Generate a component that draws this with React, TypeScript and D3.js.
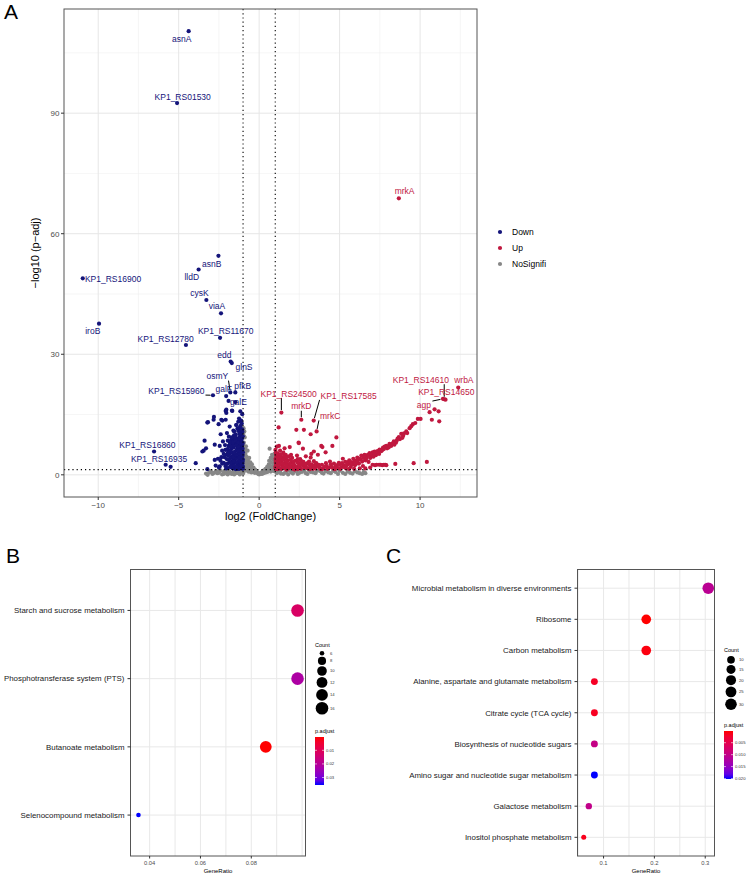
import React from 'react';
import * as d3 from 'd3';

const FONT = '"Liberation Sans", Arial, Helvetica, sans-serif';

// ---- Panel A: volcano, [log2FC, -log10 padj] ----
const nsPoints: [number, number][] = [
  [-3.3, 0.3], [-3.2, 0.0], [-3.1, 0.6], [-2.9, 0.2], [-2.7, 0.9], [-2.6, 0.4], [-2.4, 1.1], [-2.3, 0.1],
  [-2.2, 0.7], [-2.0, 0.3], [-1.9, 1.0], [-1.8, 0.5], [-1.7, 0.2], [-1.6, 0.8], [-1.5, 1.2], [-1.4, 0.4],
  [-1.3, 0.9], [-1.2, 0.1], [-1.1, 0.6], [-1.05, 1.1], [-0.98, 2.5], [-0.95, 4.0], [-0.93, 6.0], [-0.95, 8.0],
  [-0.92, 10.8], [-0.9, 9.3], [-0.97, 11.6], [-0.88, 3.2], [-0.85, 5.2], [-0.82, 7.1], [-0.8, 1.8], [-0.78, 4.5],
  [-0.75, 2.8], [-0.72, 6.0], [-0.7, 3.6], [-0.68, 0.8], [-0.65, 1.5], [-0.62, 4.2], [-0.6, 2.3], [-0.55, 3.1],
  [-0.5, 1.9], [-0.48, 0.6], [-0.45, 2.6], [-0.4, 1.2], [-0.35, 1.8], [-0.3, 0.9], [-0.25, 1.3], [-0.2, 0.6],
  [-0.15, 0.9], [-0.1, 0.4], [-0.05, 0.2], [0.0, 0.1], [0.05, 0.3], [0.1, 0.5], [0.15, 0.2], [0.2, 0.8],
  [0.25, 0.4], [0.3, 1.1], [0.35, 0.7], [0.4, 1.5], [0.45, 1.0], [0.5, 2.0], [0.55, 1.4], [0.6, 2.6],
  [0.62, 3.5], [0.65, 6.5], [0.7, 2.2], [0.72, 4.2], [0.75, 3.0], [0.8, 5.0], [0.82, 1.6], [0.85, 3.8],
  [0.88, 4.6], [0.9, 2.4], [0.95, 5.2], [0.97, 3.3], [0.93, 0.9], [1.1, 0.4], [1.3, 0.9], [1.5, 0.2],
  [1.7, 0.7], [1.9, 1.1], [2.1, 0.3], [2.3, 0.8], [2.5, 0.5], [2.8, 1.0], [3.0, 0.2], [3.2, 0.7],
  [3.5, 0.4], [3.8, 0.9], [4.0, 0.3], [4.3, 0.6], [4.6, 1.0], [4.9, 0.2], [5.2, 0.5], [5.5, 0.8],
  [5.8, 0.3], [6.1, 0.6], [6.4, 0.2], [6.6, 0.4], [-2.5, 0.5], [-1.95, 0.1], [1.2, 1.2], [2.0, 0.9],
  [-3.0, 0.9], [-2.8, 0.5], [-2.5, 0.9], [-2.2, 0.2], [-2.1, 1.0], [-1.85, 0.8], [-1.75, 0.4], [-1.55, 0.1],
  [-1.45, 0.7], [-1.35, 1.1], [-1.25, 0.4], [-1.15, 1.0], [-1.0, 0.3], [-0.95, 0.8], [-0.9, 1.5], [-0.92, 2.0],
  [-0.96, 3.0], [-0.9, 5.0], [-0.87, 6.6], [-0.97, 7.2], [-0.94, 9.6], [-0.99, 10.2], [-0.85, 4.0], [-0.8, 2.5],
  [-0.76, 3.4], [-0.7, 1.1], [-0.67, 2.0], [-0.6, 0.8], [-0.58, 1.3], [-0.52, 2.5], [-0.42, 0.8], [-0.38, 1.5],
  [-0.28, 0.5], [-0.22, 1.0], [0.22, 0.3], [0.32, 0.5], [0.42, 0.6], [0.48, 1.2], [0.52, 0.7], [0.58, 1.8],
  [0.67, 1.3], [0.72, 0.8], [0.78, 1.9], [0.85, 1.1], [0.92, 1.8], [0.98, 2.8], [0.96, 4.0], [0.99, 1.3],
  [1.15, 0.7], [1.35, 0.3], [1.6, 0.5], [1.8, 0.1], [2.0, 0.6], [2.2, 1.0], [2.4, 0.2], [2.65, 0.7],
  [2.9, 0.4], [3.1, 1.1], [3.35, 0.6], [3.6, 1.0], [3.9, 0.5], [4.15, 0.9], [4.45, 0.4], [4.75, 0.7],
  [5.0, 1.0], [5.35, 0.2], [5.65, 0.5], [5.95, 0.9], [6.25, 0.4], [6.5, 0.7]
];

const downPoints: [number, number][] = [
  [-1.02, 1.5], [-1.05, 2.4], [-1.03, 3.3], [-1.08, 4.2], [-1.04, 5.1], [-1.06, 6.0], [-1.1, 7.0], [-1.02, 7.9],
  [-1.07, 9.0], [-1.12, 10.2], [-1.05, 11.3], [-1.15, 12.2], [-1.15, 1.8], [-1.2, 2.9], [-1.18, 3.8], [-1.22, 4.7],
  [-1.16, 5.6], [-1.25, 6.5], [-1.2, 7.5], [-1.28, 8.4], [-1.19, 9.6], [-1.3, 10.9], [-1.32, 1.5], [-1.35, 2.5],
  [-1.3, 3.4], [-1.38, 4.3], [-1.33, 5.2], [-1.4, 6.2], [-1.36, 7.1], [-1.42, 8.0], [-1.38, 9.1], [-1.45, 10.0],
  [-1.42, 12.4], [-1.5, 1.9], [-1.52, 3.0], [-1.48, 3.9], [-1.55, 4.8], [-1.5, 5.8], [-1.58, 6.8], [-1.53, 7.8],
  [-1.6, 8.9], [-1.56, 9.8], [-1.65, 1.6], [-1.68, 2.6], [-1.63, 3.5], [-1.7, 4.5], [-1.66, 5.4], [-1.72, 6.4],
  [-1.69, 7.4], [-1.75, 8.6], [-1.83, 12.0], [-1.8, 2.1], [-1.84, 3.2], [-1.79, 4.1], [-1.86, 5.1], [-1.82, 6.1],
  [-1.9, 7.2], [-1.88, 9.5], [-1.95, 1.7], [-1.98, 2.8], [-2.0, 3.9], [-2.03, 5.0], [-1.97, 6.4], [-2.0, 10.4],
  [-2.1, 2.2], [-2.15, 4.4], [-2.2, 3.0], [-2.25, 8.3], [-2.35, 4.4], [-2.39, 10.1], [-2.45, 7.2], [-2.45, 2.1],
  [-2.52, 12.6], [-2.56, 4.0], [-2.76, 3.7], [-2.76, 7.5], [-2.83, 13.7], [-2.81, 14.4], [-3.18, 13.1], [-3.22, 13.0],
  [-3.3, 6.6], [-3.39, 8.5], [-3.45, 6.0], [-3.53, 5.8], [-3.94, 2.9], [-3.22, 1.4], [-2.29, 13.5], [-2.35, 13.7],
  [-2.08, 13.7], [-2.04, 16.2], [-2.04, 15.4], [-1.69, 16.0], [-1.67, 15.9], [-2.08, 15.9], [-1.17, 15.8], [-1.05, 15.1],
  [-1.48, 18.1], [-1.42, 12.4], [-1.6, 11.0], [-1.3, 13.2], [-1.25, 14.0], [-1.12, 13.5], [-1.1, 8.4], [-1.25, 2.0],
  [-1.45, 1.4], [-1.75, 1.9], [-2.5, 1.8], [-2.7, 2.3], [-5.5, 2.0],
  [-1.01, 2.0], [-1.04, 2.9], [-1.01, 3.8], [-1.03, 4.7], [-1.01, 5.6], [-1.03, 6.5], [-1.05, 7.4], [-1.02, 9.6],
  [-1.04, 10.7], [-1.09, 1.9], [-1.11, 3.0], [-1.09, 4.0], [-1.12, 5.0], [-1.1, 6.0], [-1.14, 7.8], [-1.12, 9.2],
  [-1.16, 11.0], [-1.24, 1.5], [-1.27, 3.4], [-1.25, 4.3], [-1.28, 5.3], [-1.26, 6.0], [-1.3, 7.0], [-1.33, 8.0],
  [-1.24, 9.0], [-1.22, 10.2], [-1.4, 2.0], [-1.42, 3.0], [-1.45, 5.0], [-1.44, 7.4], [-1.47, 8.6], [-1.5, 9.4],
  [-1.35, 11.5], [-1.58, 2.4], [-1.6, 3.4], [-1.62, 4.4], [-1.6, 5.5], [-1.64, 7.2], [-1.66, 8.0], [-1.7, 9.3],
  [-1.74, 2.3], [-1.76, 3.0], [-1.77, 5.7], [-1.78, 7.0], [-1.82, 8.0], [-1.9, 3.8], [-1.92, 4.8], [-1.93, 5.6],
  [-1.95, 8.5], [-2.05, 2.6], [-2.1, 6.2], [-2.12, 7.4], [-2.2, 5.2], [-2.3, 6.0], [-2.3, 2.8], [-2.4, 3.5],
  [-2.05, 1.6], [-1.55, 10.8], [-1.2, 11.8], [-1.08, 12.8]
];

const upPoints: [number, number][] = [
  [1.02, 1.5], [1.05, 2.5], [1.03, 3.5], [1.08, 4.5], [1.04, 5.5], [1.1, 7.0], [1.2, 1.8], [1.22, 2.9],
  [1.18, 3.9], [1.25, 4.8], [1.3, 6.0], [1.4, 1.5], [1.42, 2.4], [1.38, 3.4], [1.45, 4.3], [1.5, 5.5],
  [1.6, 1.9], [1.62, 3.0], [1.58, 4.0], [1.65, 5.0], [1.58, 6.6], [1.8, 1.6], [1.82, 2.6], [1.78, 3.6],
  [1.85, 4.6], [1.9, 6.9], [2.0, 2.0], [2.02, 3.1], [2.05, 4.2], [2.1, 1.5], [2.2, 2.4], [2.25, 3.5],
  [2.3, 1.7], [2.35, 4.8], [2.45, 2.9], [2.5, 2.0], [2.55, 3.9], [2.6, 1.5], [2.7, 2.4], [2.75, 3.2],
  [2.8, 1.8], [2.72, 6.5], [2.45, 8.0], [2.9, 2.2], [3.0, 2.9], [3.05, 1.6], [3.15, 2.4], [3.2, 10.1],
  [3.3, 1.9], [3.4, 3.4], [3.5, 1.6], [3.65, 5.0], [3.6, 2.2], [3.75, 1.8], [3.93, 6.9], [3.9, 2.5],
  [4.0, 1.6], [4.13, 5.6], [4.2, 2.2], [4.35, 1.8], [4.45, 2.6], [4.55, 7.2], [4.6, 1.6], [4.75, 2.1],
  [4.8, 9.3], [4.9, 1.7], [5.0, 2.6], [5.1, 1.9], [5.25, 2.3], [5.35, 3.2], [5.4, 1.6], [5.55, 2.7],
  [5.6, 3.6], [5.7, 2.0], [5.8, 3.0], [5.85, 4.0], [5.95, 2.4], [6.0, 3.5], [6.1, 4.3], [6.2, 2.8],
  [6.3, 3.9], [6.35, 4.8], [6.45, 2.2], [6.55, 5.0], [6.6, 3.6], [6.7, 4.5], [6.86, 5.4], [6.8, 3.2],
  [6.95, 4.8], [7.05, 5.6], [7.05, 2.5], [7.17, 5.8], [7.25, 4.9], [7.3, 2.5], [7.4, 5.5], [7.48, 6.3],
  [7.55, 2.5], [7.6, 5.9], [7.7, 6.8], [7.8, 7.0], [7.84, 2.5], [7.9, 2.4], [7.95, 6.6], [8.1, 7.7],
  [8.2, 7.2], [8.37, 8.3], [8.46, 2.7], [8.5, 8.0], [8.68, 9.4], [8.75, 8.9], [8.83, 10.2], [8.95, 9.7],
  [9.14, 10.8], [9.35, 11.6], [9.55, 12.6], [9.6, 2.9], [9.86, 13.9], [10.03, 13.9], [10.42, 3.2], [10.59, 15.6],
  [10.9, 16.3], [11.15, 15.8], [10.73, 13.7], [11.19, 13.3], [1.21, 11.8], [2.31, 11.2], [2.78, 11.2], [1.23, 7.2],
  [3.24, 5.2], [3.4, 5.8], [3.86, 7.2], [2.47, 7.9], [3.2, 4.3], [2.9, 4.6], [1.7, 1.3], [2.4, 1.4], [3.9, 1.4],
  [4.4, 3.3], [5.2, 4.0], [5.9, 1.5], [6.25, 1.6],
  [1.01, 2.0], [1.03, 3.0], [1.02, 4.0], [1.05, 5.0], [1.01, 6.2], [1.12, 1.4], [1.1, 2.2], [1.14, 3.2],
  [1.12, 4.1], [1.15, 5.3], [1.28, 1.6], [1.3, 2.5], [1.32, 3.6], [1.3, 4.4], [1.35, 5.1], [1.48, 1.9],
  [1.5, 2.8], [1.52, 3.8], [1.55, 4.7], [1.68, 1.4], [1.7, 2.3], [1.72, 3.3], [1.7, 4.4], [1.9, 1.9],
  [1.92, 2.8], [1.95, 3.7], [1.98, 5.0], [2.12, 2.6], [2.15, 3.3], [2.18, 1.9], [2.38, 2.0], [2.4, 3.0],
  [2.4, 3.9], [2.6, 2.6], [2.62, 3.4], [2.85, 2.7], [2.95, 1.7], [3.1, 3.3], [3.25, 2.6], [3.35, 1.5],
  [3.45, 2.4], [3.55, 2.9], [3.7, 2.5], [3.8, 1.5], [4.05, 2.0], [4.15, 2.9], [4.25, 1.5], [4.5, 2.0],
  [4.65, 2.8], [4.85, 2.4], [4.95, 3.0], [5.05, 1.5], [5.15, 2.9], [5.3, 1.9], [5.45, 2.4], [5.5, 3.1],
  [5.65, 3.3], [5.75, 2.6], [5.9, 3.3], [6.05, 2.8], [6.15, 3.6], [6.25, 4.0], [6.4, 3.3], [6.5, 4.2],
  [6.65, 4.0], [6.75, 5.0], [6.9, 4.2], [7.0, 5.1], [7.1, 4.5], [7.2, 5.2], [7.35, 5.9], [7.45, 5.2],
  [7.65, 6.2], [7.75, 6.4], [7.9, 7.2], [8.0, 7.0], [8.05, 6.8], [8.3, 7.8], [8.4, 7.5], [8.55, 8.5],
  [8.6, 9.0], [8.9, 9.2], [9.0, 10.3], [9.2, 10.4], [9.45, 12.1], [9.7, 12.9], [6.6, 1.6], [6.9, 1.8],
  [7.2, 2.4], [7.45, 2.5], [7.65, 2.4], [7.75, 2.5], [5.6, 1.5], [4.7, 1.4], [3.15, 1.4], [2.2, 1.3]
];

// labelled genes: name, group, x, y, label x, label y, draw segment
const geneLabels: [string, string, number, number, number, number, boolean][] = [
  ['asnA', 'Down', -4.38, 110.4, -4.81, 108.4, false],
  ['KP1_RS01530', 'Down', -5.1, 92.5, -4.75, 94.1, false],
  ['asnB', 'Down', -2.53, 54.5, -2.95, 52.5, false],
  ['lldD', 'Down', -3.76, 51.1, -4.19, 49.1, false],
  ['KP1_RS16900', 'Down', -10.96, 48.9, -9.08, 48.8, false],
  ['cysK', 'Down', -3.28, 43.5, -3.71, 45.3, false],
  ['viaA', 'Down', -2.37, 40.2, -2.62, 41.9, false],
  ['iroB', 'Down', -9.95, 37.6, -10.34, 35.8, false],
  ['KP1_RS11670', 'Down', -2.43, 34.1, -2.08, 35.8, false],
  ['KP1_RS12780', 'Down', -4.55, 32.3, -5.81, 33.9, false],
  ['edd', 'Down', -1.77, 28.2, -2.16, 29.9, false],
  ['glnS', 'Down', -1.7, 27.8, -0.94, 26.9, false],
  ['osmY', 'Down', -1.79, 20.5, -2.6, 24.5, true],
  ['pfkB', 'Down', -1.48, 20.5, -1.02, 22.2, false],
  ['galF', 'Down', -2.05, 19.6, -2.2, 21.4, false],
  ['galE', 'Down', -1.9, 18.4, -1.29, 18.2, false],
  ['KP1_RS15960', 'Down', -2.87, 19.8, -5.14, 20.9, true],
  ['KP1_RS16860', 'Down', -6.53, 5.8, -6.94, 7.5, false],
  ['KP1_RS16935', 'Down', -5.81, 2.5, -6.22, 4.0, false],
  ['mrkA', 'Up', 8.68, 68.8, 9.04, 70.5, false],
  ['KP1_RS24500', 'Up', 1.38, 15.5, 1.83, 20.2, true],
  ['mrkD', 'Up', 2.62, 13.7, 2.62, 17.0, true],
  ['KP1_RS17585', 'Up', 3.39, 13.5, 5.56, 19.7, true],
  ['mrkC', 'Up', 3.57, 10.8, 4.41, 14.6, true],
  ['KP1_RS14610', 'Up', 11.5, 18.8, 10.05, 23.6, true],
  ['KP1_RS14650', 'Up', 11.58, 18.7, 11.63, 20.5, true],
  ['agp', 'Up', 11.42, 18.9, 10.23, 17.3, true],
  ['wrbA', 'Up', 12.37, 21.7, 12.72, 23.6, false]
];

const groups = ['Down', 'Up', 'NoSignifi'];
const groupColors = ['#14147a', '#c0183f', '#878787'];
const fcCut = 1;
const padjCut = 1.3;
const xTicksA = [-10, -5, 0, 5, 10];
const yTicksA = [0, 30, 60, 90];

// ---- Panel B: KEGG enrichment (down) ----
const termsB = ['Starch and sucrose metabolism', 'Phosphotransferase system (PTS)', 'Butanoate metabolism', 'Selenocompound metabolism'];
const ratioB = [0.0982, 0.0982, 0.0857, 0.0356];
const countB = [16, 16, 14, 6];
const padjB = [0.012, 0.022, 0.0002, 0.0355];
const xTicksB = [0.04, 0.06, 0.08];
const countBreaksB = [6, 8, 10, 12, 14, 16];
const padjBreaksB = [0.01, 0.02, 0.03];

// ---- Panel C: KEGG enrichment (up) ----
const termsC = ['Microbial metabolism in diverse environments', 'Ribosome', 'Carbon metabolism',
  'Alanine, aspartate and glutamate metabolism', 'Citrate cycle (TCA cycle)', 'Biosynthesis of nucleotide sugars',
  'Amino sugar and nucleotide sugar metabolism', 'Galactose metabolism', 'Inositol phosphate metabolism'];
const ratioC = [0.306, 0.184, 0.184, 0.082, 0.082, 0.082, 0.082, 0.071, 0.061];
const countC = [30, 18, 18, 8, 8, 8, 8, 7, 6];
const padjC = [0.011, 0.0001, 0.0006, 0.0018, 0.0015, 0.0098, 0.0202, 0.0102, 0.0012];
const xTicksC = [0.1, 0.2, 0.3];
const countBreaksC = [10, 15, 20, 25, 30];
const padjBreaksC = [0.005, 0.01, 0.015, 0.02];

const pad = (e: [number, number], f = 0.05): [number, number] => [e[0] - (e[1] - e[0]) * f, e[1] + (e[1] - e[0]) * f];

function Volcano() {
  const L = 64, R = 477, T = 9, B = 497;
  const all = [...nsPoints, ...downPoints, ...upPoints, ...geneLabels.map(g => [g[2], g[3]] as [number, number])];
  const x = d3.scaleLinear().domain(pad(d3.extent(all, d => d[0]) as [number, number])).range([L, R]);
  const y = d3.scaleLinear().domain(pad(d3.extent(all, d => d[1]) as [number, number])).range([B, T]);
  const col = d3.scaleOrdinal<string, string>().domain(groups).range(groupColors);
  const xMinor = d3.range(-12.5, 15, 5).filter(v => x(v) > L && x(v) < R);
  const yMinor = d3.range(15, 120, 30).filter(v => y(v) > T);
  const fs = 8.5;
  return (
    <g>
      <rect x={L} y={T} width={R - L} height={B - T} fill="#fff" />
      {xMinor.map(v => <line key={'xm' + v} x1={x(v)} x2={x(v)} y1={T} y2={B} stroke="#f0f0f0" strokeWidth={0.6} />)}
      {yMinor.map(v => <line key={'ym' + v} x1={L} x2={R} y1={y(v)} y2={y(v)} stroke="#f0f0f0" strokeWidth={0.6} />)}
      {xTicksA.map(v => <line key={'xg' + v} x1={x(v)} x2={x(v)} y1={T} y2={B} stroke="#e6e6e6" strokeWidth={1} />)}
      {yTicksA.map(v => <line key={'yg' + v} x1={L} x2={R} y1={y(v)} y2={y(v)} stroke="#e6e6e6" strokeWidth={1} />)}
      {nsPoints.map((d, i) => <circle key={'n' + i} cx={x(d[0])} cy={y(d[1])} r={2.1} fill={col('NoSignifi')} />)}
      {downPoints.map((d, i) => <circle key={'d' + i} cx={x(d[0])} cy={y(d[1])} r={2.1} fill={col('Down')} />)}
      {upPoints.map((d, i) => <circle key={'u' + i} cx={x(d[0])} cy={y(d[1])} r={2.1} fill={col('Up')} />)}
      {geneLabels.map(g => <circle key={'g' + g[0]} cx={x(g[2])} cy={y(g[3])} r={2.1} fill={col(g[1])} />)}
      <line x1={x(-fcCut)} x2={x(-fcCut)} y1={T} y2={B} stroke="#000" strokeWidth={1.1} strokeDasharray="1.2,3" />
      <line x1={x(fcCut)} x2={x(fcCut)} y1={T} y2={B} stroke="#000" strokeWidth={1.1} strokeDasharray="1.2,3" />
      <line x1={L} x2={R} y1={y(padjCut)} y2={y(padjCut)} stroke="#000" strokeWidth={1.1} strokeDasharray="1.2,3" />
      {geneLabels.map(g => {
        const px = x(g[2]), py = y(g[3]), cx = x(g[4]), cy = y(g[5]);
        const hw = g[0].length * fs * 0.3 + 1, hh = fs * 0.5;
        const ex = Math.max(cx - hw, Math.min(cx + hw, px));
        const ey = Math.max(cy - hh, Math.min(cy + hh, py));
        const len = Math.hypot(ex - px, ey - py);
        const k = len > 3 ? (len - 2.5) / len : 0;
        return (
          <g key={'l' + g[0]}>
            {g[6] && len > 3 && <line x1={px + (ex - px) * (1 - k)} y1={py + (ey - py) * (1 - k)} x2={ex} y2={ey} stroke="#000" strokeWidth={1} />}
            <text x={cx} y={cy} dy="0.35em" textAnchor="middle" fontSize={fs} fill={col(g[1])}>{g[0]}</text>
          </g>
        );
      })}
      <rect x={L} y={T} width={R - L} height={B - T} fill="none" stroke="#555" strokeWidth={1} />
      {xTicksA.map(v => (
        <g key={'xt' + v}>
          <line x1={x(v)} x2={x(v)} y1={B} y2={B + 3} stroke="#333" />
          <text x={x(v)} y={B + 11} textAnchor="middle" fontSize={8} fill="#4d4d4d">{v < 0 ? '\u2212' + Math.abs(v) : v}</text>
        </g>
      ))}
      {yTicksA.map(v => (
        <g key={'yt' + v}>
          <line x1={L - 3} x2={L} y1={y(v)} y2={y(v)} stroke="#333" />
          <text x={L - 4.5} y={y(v)} dy="0.35em" textAnchor="end" fontSize={8} fill="#4d4d4d">{v}</text>
        </g>
      ))}
      <text x={(L + R) / 2} y={B + 23} textAnchor="middle" fontSize={11}>log2 (FoldChange)</text>
      <text transform={`translate(39,${(T + B) / 2}) rotate(-90)`} textAnchor="middle" fontSize={11}>{'\u2212log10 (p\u2212adj)'}</text>
      {groups.map((gName, i) => (
        <g key={'lg' + gName} transform={`translate(500,${232 + i * 16})`}>
          <circle r={2.1} fill={col(gName)} />
          <text x={12} dy="0.35em" fontSize={8.5}>{gName}</text>
        </g>
      ))}
    </g>
  );
}

type DotProps = {
  id: string; terms: string[]; ratio: number[]; count: number[]; padj: number[];
  xTicks: number[]; countBreaks: number[]; padjBreaks: number[];
  L: number; R: number; T: number; B: number; r0: number; r1: number; legX: number; countY: number; padjY: number;
};

function DotPlot(p: DotProps) {
  const { L, R, T, B } = p;
  const x = d3.scaleLinear().domain(pad(d3.extent(p.ratio) as [number, number])).range([L, R]);
  const y = d3.scalePoint<string>().domain(p.terms).range([T, B]).padding(0.6);
  const cExt = d3.extent(p.count) as [number, number];
  const size = (c: number) => p.r0 + Math.sqrt((c - cExt[0]) / (cExt[1] - cExt[0])) * (p.r1 - p.r0);
  const pExt = d3.extent(p.padj) as [number, number];
  const color = d3.scaleLinear<string>().domain(pExt).range(['red', 'blue']).interpolate(d3.interpolateLab);
  const step = (x.domain()[1] - x.domain()[0]) > 0.1 ? 0.05 : 0.01;
  const gridX = d3.range(Math.ceil(x.domain()[0] / step) * step, x.domain()[1], step).filter(v => x(v) > L + 0.5 && x(v) < R - 0.5);
  const barH = 48, barW = 9;
  const by = d3.scaleLinear().domain(pExt).range([p.padjY + 6, p.padjY + 6 + barH]);
  const gid = 'grad' + p.id;
  const stops = d3.range(0, 1.0001, 0.1);
  let cy = p.countY + 6;
  const countItems = p.countBreaks.map(c => {
    const r = size(c);
    const yy = cy + r;
    cy += 2 * r + 1.2;
    return { c, r, yy };
  });
  return (
    <g>
      <defs>
        <linearGradient id={gid} x1="0" x2="0" y1="0" y2="1">
          {stops.map(s => <stop key={s} offset={s} stopColor={color(pExt[0] + s * (pExt[1] - pExt[0]))} />)}
        </linearGradient>
      </defs>
      {gridX.map(v => <line key={'g' + v} x1={x(v)} x2={x(v)} y1={T} y2={B} stroke="#e8e8e8" strokeWidth={1} />)}
      {p.terms.map(t => <line key={'h' + t} x1={L} x2={R} y1={y(t)} y2={y(t)} stroke="#e8e8e8" strokeWidth={1} />)}
      {p.terms.map((t, i) => (
        <circle key={'c' + t} cx={x(p.ratio[i])} cy={y(t)} r={size(p.count[i])} fill={color(p.padj[i])} />
      ))}
      <rect x={L} y={T} width={R - L} height={B - T} fill="none" stroke="#555" strokeWidth={1} />
      {p.terms.map(t => (
        <g key={'t' + t}>
          <line x1={L - 3} x2={L} y1={y(t)} y2={y(t)} stroke="#333" />
          <text x={L - 6} y={y(t)} dy="0.35em" textAnchor="end" fontSize={7.9} fill="#1a1a1a">{t}</text>
        </g>
      ))}
      {p.xTicks.map(v => (
        <g key={'xt' + v}>
          <line x1={x(v)} x2={x(v)} y1={B} y2={B + 2.5} stroke="#333" />
          <text x={x(v)} y={B + 9} textAnchor="middle" fontSize={5.8} fill="#4d4d4d">{v}</text>
        </g>
      ))}
      <text x={(L + R) / 2} y={B + 16.5} textAnchor="middle" fontSize={6}>GeneRatio</text>
      <text x={p.legX - 7} y={p.countY} dy="0.35em" fontSize={5.5}>Count</text>
      {countItems.map(it => (
        <g key={'ci' + it.c}>
          <circle cx={p.legX} cy={it.yy} r={it.r} fill="#000" />
          <text x={p.legX + 8} y={it.yy} dy="0.35em" fontSize={4.2} fill="#333">{it.c}</text>
        </g>
      ))}
      <text x={p.legX - 7} y={p.padjY} dy="0.35em" fontSize={5.5}>p.adjust</text>
      <rect x={p.legX - 7} y={p.padjY + 6} width={barW} height={barH} fill={`url(#${gid})`} />
      {p.padjBreaks.map(v => (
        <g key={'pb' + v}>
          <line x1={p.legX - 7} x2={p.legX - 5} y1={by(v)} y2={by(v)} stroke="#fff" strokeWidth={0.6} />
          <line x1={p.legX + 0} x2={p.legX + 2} y1={by(v)} y2={by(v)} stroke="#fff" strokeWidth={0.6} />
          <text x={p.legX + 4} y={by(v)} dy="0.35em" fontSize={4.2} fill="#333">{p.padjBreaks.some(b => b < 0.01) ? v.toFixed(3) : v.toFixed(2)}</text>
        </g>
      ))}
    </g>
  );
}

export default function App() {
  return (
    <svg width={750} height={874} style={{ position: 'absolute', left: 0, top: 0, background: '#fff' }} fontFamily={FONT}>
      <rect width={750} height={874} fill="#fff" />
      <text x={4} y={19} fontSize={21}>A</text>
      <text x={6} y={563} fontSize={21}>B</text>
      <text x={386} y={563} fontSize={21}>C</text>
      <Volcano />
      <DotPlot id="B" terms={termsB} ratio={ratioB} count={countB} padj={padjB} xTicks={xTicksB}
        countBreaks={countBreaksB} padjBreaks={padjBreaksB} L={130.5} R={305.5} T={569.5} B={856}
        r0={2.3} r1={6.3} legX={322} countY={645} padjY={731} />
      <DotPlot id="C" terms={termsC} ratio={ratioC} count={countC} padj={padjC} xTicks={xTicksC}
        countBreaks={countBreaksC} padjBreaks={padjBreaksC} L={577.5} R={714.5} T={569.5} B={856}
        r0={2.5} r1={5.8} legX={731} countY={650} padjY={725} />
    </svg>
  );
}
